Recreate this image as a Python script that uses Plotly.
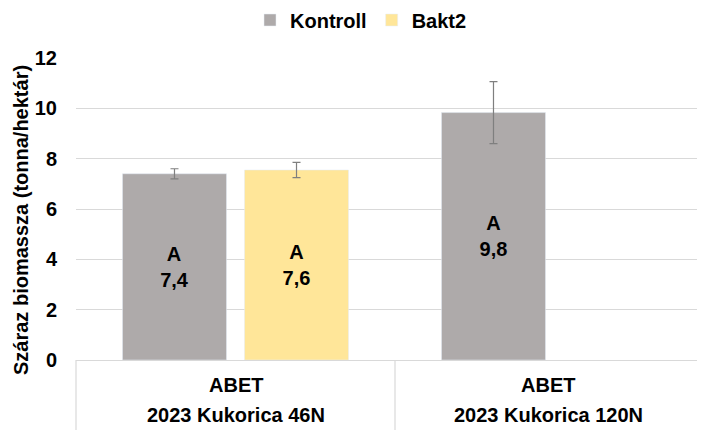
import plotly.graph_objects as go

categories = ["2023 Kukorica 46N", "2023 Kukorica 120N"]
sublabels = ["ABET", "ABET"]
kontroll = [7.4, 9.83]
kontroll_err = [0.2, 1.23]
kontroll_labels = ["A<br>7,4", "A<br>9,8"]
bakt2 = [7.55, None]
bakt2_err = [0.3, None]
bakt2_labels = ["A<br>7,6", ""]

FONT = "Liberation Sans, Arial, sans-serif"
FS = 20
xs = list(range(len(categories)))

fig = go.Figure()
fig.add_trace(go.Bar(
    name="Kontroll", x=xs, y=kontroll,
    marker=dict(color="#AEAAAA"),
    error_y=dict(type="data", array=kontroll_err, color="#7F7F7F", thickness=1.2, width=4),
    text=kontroll_labels, textposition="inside", insidetextanchor="middle",
    textfont=dict(family=FONT, size=FS, color="black", weight="bold"),
    textangle=0,
))
fig.add_trace(go.Bar(
    name="Bakt2", x=xs, y=bakt2,
    marker=dict(color="#FFE699"),
    error_y=dict(type="data", array=bakt2_err, color="#7F7F7F", thickness=1.2, width=4),
    text=bakt2_labels, textposition="inside", insidetextanchor="middle",
    textfont=dict(family=FONT, size=FS, color="black", weight="bold"),
    textangle=0,
))

OFF = 8  # page body margin
W, H = 705 - OFF, 430 - OFF
L, R, T, B = 76 - OFF, 0, 58 - OFF, 70
pw = W - L - R
ph = H - T - B
cat_px = 319
xmax = -0.5 + pw / cat_px

def py(screen_y):
    return ((T + ph) - (screen_y - OFF)) / ph

def px(screen_x):
    return ((screen_x - OFF) - L) / pw

fig.update_layout(
    width=W, height=H,
    margin=dict(l=L, r=R, t=T, b=B, autoexpand=False),
    paper_bgcolor="white", plot_bgcolor="white",
    barmode="group", bargap=0.235, bargroupgap=0.1475,
    font=dict(family=FONT, size=FS, color="black"),
    uniformtext=dict(minsize=FS, mode="show"),
    showlegend=True,
    legend=dict(orientation="h", xref="container", yref="container",
                x=(361 - OFF) / W, xanchor="center", y=1 - (20 - OFF) / H, yanchor="middle",
                font=dict(family=FONT, size=FS, color="black", weight="bold"),
                itemwidth=30, traceorder="normal", tracegroupgap=0),
    xaxis=dict(range=[-0.5, xmax], showticklabels=False, showgrid=False, zeroline=False,
               showline=False, fixedrange=True, automargin=False),
    yaxis=dict(range=[0, 12], dtick=2, showgrid=True, gridcolor="#D9D9D9", gridwidth=1,
               zeroline=True, zerolinecolor="#D9D9D9", zerolinewidth=1, showline=False,
               tickfont=dict(family=FONT, size=FS, color="black", weight="bold"),
               ticks="", ticklabelstandoff=18, automargin=False),
)

# y-axis title
fig.add_annotation(xref="paper", yref="paper", x=px(21), y=py(220),
                   text="Száraz biomassza (tonna/hektár)", textangle=-90, showarrow=False,
                   font=dict(family=FONT, size=FS, color="black", weight="bold"),
                   xanchor="center", yanchor="middle")

# category table lines
div_x = (0.5 + 0.5) / (xmax + 0.5)
for xp in [0, div_x]:
    fig.add_shape(type="line", xref="paper", yref="paper", x0=xp, x1=xp,
                  y0=0, y1=py(440), line=dict(color="#D9D9D9", width=1.2))

label_px = [236, 548]
for i, (c, s) in enumerate(zip(categories, sublabels)):
    fig.add_annotation(xref="paper", yref="paper", x=px(label_px[i]), y=py(385),
                       text=s, showarrow=False, xanchor="center", yanchor="middle",
                       font=dict(family=FONT, size=FS, color="black", weight="bold"))
    fig.add_annotation(xref="paper", yref="paper", x=px(label_px[i]), y=py(415),
                       text=c, showarrow=False, xanchor="center", yanchor="middle",
                       font=dict(family=FONT, size=FS, color="black", weight="bold"))

fig.write_html("out.html")
